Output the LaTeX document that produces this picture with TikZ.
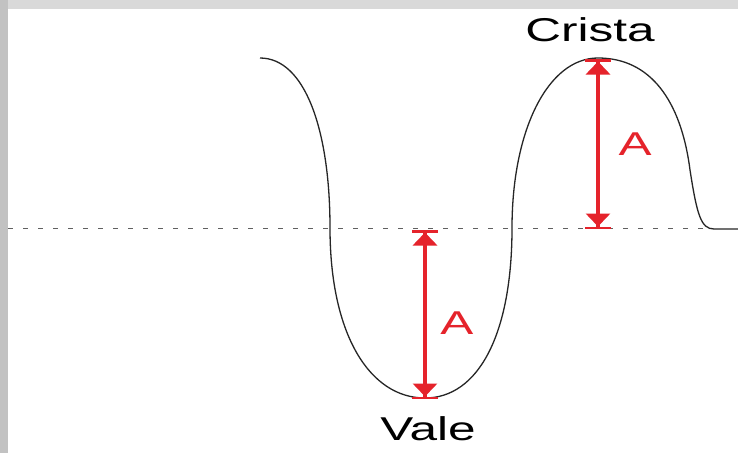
\documentclass[tikz,border=0pt]{standalone}
\usepackage{xcolor}
\usepackage{fontspec}
\usepackage{tikz}
\usetikzlibrary{arrows.meta, positioning}
\newfontfamily\wavefont[FakeStretch=1.5]{Liberation Sans}
\definecolor{ampred}{HTML}{E5232B}
\definecolor{framegray}{HTML}{D9D9D9}
\definecolor{sidegray}{HTML}{C2C2C2}
\definecolor{axisgray}{HTML}{606060}

\begin{document}
\begin{tikzpicture}[
  x=1pt, y=-1pt,
  wave/.style={draw=black!85, line width=1.3pt},
  axis/.style={draw=axisgray, line width=1pt, dash pattern=on 5pt off 10pt},
  amp/.style={draw=ampred, line width=3.5pt,
              {Bar[width=26pt,line width=2.5pt]Triangle[length=13pt,width=24pt]}-{Triangle[length=13pt,width=24pt]Bar[width=26pt,line width=2.5pt]}},
  lbl/.style={font=\wavefont\fontsize{33}{38}\selectfont, inner sep=0pt, anchor=base},
  ampl/.style={lbl, text=ampred}
]
\useasboundingbox (0,0) rectangle (738,453);
\fill[white] (0,0) rectangle (738,453);
\fill[framegray] (0,0) rectangle (738,9);
\fill[sidegray] (0,0) rectangle (8,453);

% axis and wave
\draw[axis] (8,228) -- (712,228);
\draw[wave] (260,58) .. controls (305,58) and (330,130) .. (330,228)
  .. controls (330,335) and (370,398) .. (425,398)
  .. controls (478,398) and (512,335) .. (512,228)
  .. controls (512,130) and (548,58) .. (598,58)
  .. controls (650,58) and (681,100) .. (690,170)
  .. controls (697,215) and (701,229) .. (714,229) -- (738,229);

% amplitudes
\coordinate (crestTop) at (598,59);
\coordinate (crestBase) at (598,229);
\coordinate (valeTop) at (425,230);
\coordinate (valeBot) at (425,399);
\draw[amp] (crestTop) -- (crestBase);
\draw[amp] (valeTop) -- (valeBot);

\node[ampl] (ampCrest) at (635,155) {A};
\node[ampl] (ampVale) at (457,334) {A};
\node[lbl] (crista) at (590,41) {Crista};
\node[lbl] (vale) at (428,440) {Vale};

\end{tikzpicture}
\end{document}
